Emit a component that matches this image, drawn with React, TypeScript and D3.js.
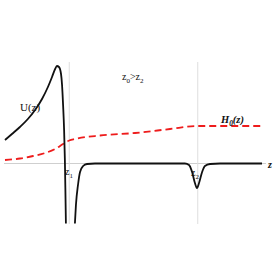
import React, { useEffect, useRef } from "react";
import * as d3 from "d3";

// U(z) left branch (before the pole at z1)
const uLeftZ = [0, 0.27, 0.58, 0.89, 1.17, 1.44, 1.67, 1.83, 1.95, 2.02, 2.1, 2.18, 2.22, 2.26, 2.3, 2.33, 2.35, 2.37];
const uLeftV = [1.175, 1.475, 1.825, 2.225, 2.675, 3.225, 3.825, 4.325, 4.725, 4.875, 4.825, 4.475, 3.925, 2.925, 1.675, 0.175, -1.325, -3];
// U(z) right branch
const uRightZ = [2.72, 2.76, 2.84, 2.92, 3.04, 3.19, 3.5, 7.0, 7.16, 7.28, 7.39, 7.47, 7.55, 7.67, 7.78, 7.98, 8.37, 10];
const uRightV = [-3, -2.075, -1.075, -0.425, -0.125, -0.025, 0, 0, -0.075, -0.425, -0.975, -1.225, -0.975, -0.425, -0.125, -0.025, 0, 0];
// H0(z)
const hZ = [0, 0.58, 1.09, 1.56, 1.95, 2.26, 2.5, 2.72, 3.7, 5.06, 6.42, 7.47, 10];
const hV = [0.175, 0.25, 0.375, 0.525, 0.725, 0.975, 1.15, 1.225, 1.4, 1.525, 1.725, 1.875, 1.875];

const z1 = 2.5;
const z2 = 7.5;

export default function App() {
  const ref = useRef<SVGSVGElement>(null);

  useEffect(() => {
    const svg = d3.select(ref.current);
    svg.selectAll("*").remove();

    const x = d3.scaleLinear().domain([0, 10]).range([5, 262]);
    const y = d3.scaleLinear().domain([-3, 5]).range([223.5, 63.5]);

    // axis line
    svg
      .append("line")
      .attr("x1", 4)
      .attr("x2", 266)
      .attr("y1", y(0))
      .attr("y2", y(0))
      .attr("stroke", "#cfcfcf")
      .attr("stroke-width", 1);

    // vertical markers at z1, z2
    svg
      .append("g")
      .selectAll("line")
      .data([z1, z2])
      .join("line")
      .attr("x1", (d) => x(d))
      .attr("x2", (d) => x(d))
      .attr("y1", 62)
      .attr("y2", 224)
      .attr("stroke", "#dedede")
      .attr("stroke-width", 1);

    const line = d3
      .line<[number, number]>()
      .x((d) => x(d[0]))
      .y((d) => y(d[1]))
      .curve(d3.curveMonotoneX);

    const zipped = (zs: number[], vs: number[]) =>
      zs.map((z, i) => [z, vs[i]] as [number, number]);

    svg
      .append("path")
      .attr("d", line(zipped(hZ, hV)))
      .attr("fill", "none")
      .attr("stroke", "#ee1c1c")
      .attr("stroke-width", 1.8)
      .attr("stroke-dasharray", "7,4");

    [zipped(uLeftZ, uLeftV), zipped(uRightZ, uRightV)].forEach((d) => {
      svg
        .append("path")
        .attr("d", line(d))
        .attr("fill", "none")
        .attr("stroke", "#111")
        .attr("stroke-width", 1.8);
    });

    const font = "'Liberation Serif', 'Times New Roman', serif";

    const label = (
      px: number,
      py: number,
      parts: [string, boolean][],
      size: number,
      italic = false,
      weight = "normal"
    ) => {
      const t = svg
        .append("text")
        .attr("x", px)
        .attr("y", py)
        .attr("font-family", font)
        .attr("font-size", size)
        .attr("font-style", italic ? "italic" : "normal")
        .attr("font-weight", weight)
        .attr("fill", "#111");
      let sub = false;
      parts.forEach(([s, isSub]) => {
        const ts = t.append("tspan").text(s);
        if (isSub && !sub) ts.attr("dy", 2.5).attr("font-size", size * 0.7);
        else if (!isSub && sub) ts.attr("dy", -2.5);
        else if (isSub) ts.attr("font-size", size * 0.7);
        sub = isSub;
      });
    };

    label(20, 111, [["U(z)", false]], 11);
    label(122, 80, [["z", false], ["0", true], [">z", false], ["2", true]], 10);
    label(221, 123, [["H", false], ["0", true], ["(z)", false]], 10.5, true, "bold");
    label(65, 175, [["z", false], ["1", true]], 10);
    label(191, 176, [["z", false], ["2", true]], 10);
    label(268, 168, [["z", false]], 10, true, "bold");
  }, []);

  return (
    <svg
      ref={ref}
      width={275}
      height={275}
      style={{ position: "absolute", left: 0, top: 0, background: "#fff" }}
    ></svg>
  );
}
